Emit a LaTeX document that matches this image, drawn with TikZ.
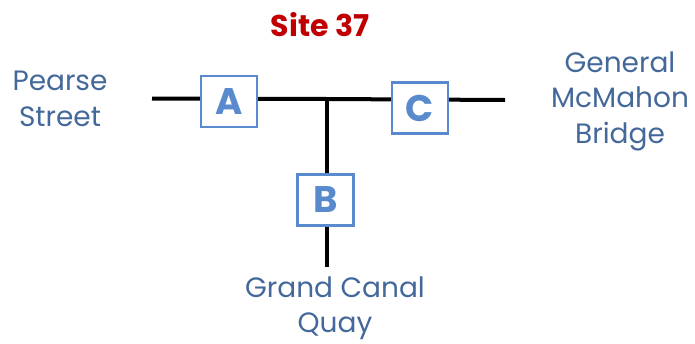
\documentclass[tikz,border=0pt]{standalone}
\usepackage{fontspec}
\setmainfont{Poppins}
\usepackage{tikz}
\usetikzlibrary{positioning}
\definecolor{sitered}{RGB}{192, 0, 0}
\definecolor{boxblue}{RGB}{88, 138, 205}
\definecolor{labelblue}{RGB}{68, 104, 154}

\begin{document}
\begin{tikzpicture}[
    x=1pt, y=-1pt,
    road/.style={line width=4pt, black},
    sitebox/.style={rectangle, draw=boxblue, line width=2.2pt, fill=white, minimum width=56pt, minimum height=51pt, text=boxblue, font=\fontsize{37}{37}\selectfont\bfseries, inner sep=0pt},
    place/.style={text=labelblue, font=\fontsize{28}{35.5}\selectfont, align=center}
]
\useasboundingbox (0,0) rectangle (695,343);

% Title
\node[text=sitered, font=\fontsize{30}{30}\selectfont\bfseries] (title) at (320,25) {Site 37};

% Road ends and junction
\coordinate (west) at (152,98.5);
\coordinate (junction) at (327,99);
\coordinate (east) at (505,100);
\coordinate (south) at (327,267);

\draw[road] (west) -- (junction) -- (east);
\draw[road] (junction) -- (south);

% Counting sites
\node[sitebox] (boxA) at (229,101.5) {A};
\node[sitebox] (boxC) at (420,108) {C};
\node[sitebox] (boxB) at (325.5,200) {B};

% Place names
\node[place] (pearse) at (60,99) {Pearse\\Street};
\node[place] (mcmahon) at (620,101) {General\\McMahon\\Bridge};
\node[place] (canal) at (335,308) {Grand Canal\\Quay};
\end{tikzpicture}
\end{document}
